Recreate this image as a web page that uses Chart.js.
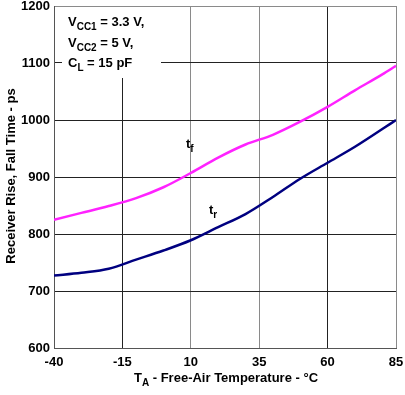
<!DOCTYPE html>
<html>
<head>
<meta charset="utf-8">
<script src="https://cdn.jsdelivr.net/npm/chart.js@4.4.0/dist/chart.umd.min.js"></script>
<style>
  html, body { margin: 0; padding: 0; background: #fff; }
  #wrap { width: 405px; height: 395px; }
</style>
</head>
<body>
<div id="wrap"><canvas id="c"></canvas></div>
<script>
// temperatures (°C) and times (ps)
const tfTemps = [-40, -30, -20, -10, 0, 10, 20, 30, 40, 50, 60, 70, 80, 85];
const tfValues = [825, 837, 849, 863, 882, 907, 934, 957, 974, 997, 1023, 1052, 1080, 1095];
const trTemps = [-40, -30, -20, -10, 0, 10, 20, 30, 40, 50, 60, 70, 85];
const trValues = [727, 732, 739, 755, 771, 789, 812, 835, 865, 897, 925, 953, 1000];
const xTicks = [-40, -15, 10, 35, 60, 85];
const yTicks = [600, 700, 800, 900, 1000, 1100, 1200];

const FONT = '"Liberation Sans", Arial, sans-serif';

// draws text made of [string, isSubscript] parts
function drawParts(ctx, parts, x, y, size, align) {
  const subSize = Math.round(size * 0.78);
  let total = 0;
  parts.forEach(p => {
    ctx.font = 'bold ' + (p[1] ? subSize : size) + 'px ' + FONT;
    total += ctx.measureText(p[0]).width;
  });
  let cx = align === 'center' ? x - total / 2 : x;
  ctx.textAlign = 'left';
  ctx.textBaseline = 'alphabetic';
  parts.forEach(p => {
    ctx.font = 'bold ' + (p[1] ? subSize : size) + 'px ' + FONT;
    ctx.fillText(p[0], cx, p[1] ? y + 4 : y);
    cx += ctx.measureText(p[0]).width;
  });
}

const labels = {
  id: 'labels',
  beforeDatasetsDraw(chart) {
    const ctx = chart.ctx;
    ctx.save();
    ctx.fillStyle = '#fff';
    ctx.fillRect(62, 7, 99, 71);
    ctx.fillStyle = '#000';
    drawParts(ctx, [['V', 0], ['CC1', 1], [' = 3.3 V,', 0]], 68, 26, 13);
    drawParts(ctx, [['V', 0], ['CC2', 1], [' = 5 V,', 0]], 68, 47, 13);
    drawParts(ctx, [['C', 0], ['L', 1], [' = 15 pF', 0]], 68, 67, 13);
    ctx.restore();
  },
  afterDraw(chart) {
    const ctx = chart.ctx;
    ctx.save();
    ctx.fillStyle = '#000';
    drawParts(ctx, [['t', 0], ['f', 1]], 186, 148, 13);
    drawParts(ctx, [['t', 0], ['r', 1]], 209, 214, 13);
    drawParts(ctx, [['T', 0], ['A', 1], [' - Free-Air Temperature - °C', 0]], 226, 382, 13, 'center');
    ctx.translate(15, 176);
    ctx.rotate(-Math.PI / 2);
    drawParts(ctx, [['Receiver Rise, Fall Time - ps', 0]], 0, 0, 13, 'center');
    ctx.restore();
  }
};

new Chart(document.getElementById('c'), {
  type: 'line',
  data: {
    datasets: [
      {
        label: 'tf',
        data: tfTemps.map((t, i) => ({ x: t, y: tfValues[i] })),
        borderColor: '#ff22ff',
        borderWidth: 2.5,
        pointRadius: 0,
        cubicInterpolationMode: 'monotone'
      },
      {
        label: 'tr',
        data: trTemps.map((t, i) => ({ x: t, y: trValues[i] })),
        borderColor: '#000080',
        borderWidth: 2.5,
        pointRadius: 0,
        cubicInterpolationMode: 'monotone'
      }
    ]
  },
  options: {
    responsive: true,
    maintainAspectRatio: false,
    animation: false,
    layout: { padding: { top: 6, right: 9, left: 0, bottom: 0 } },
    plugins: {
      legend: { display: false },
      tooltip: { enabled: false }
    },
    scales: {
      x: {
        type: 'linear',
        min: -40,
        max: 85,
        afterBuildTicks: s => { s.ticks = xTicks.map(v => ({ value: v })); },
        afterFit: s => { s.height = 47; s.paddingLeft = 0; s.paddingRight = 0; },
        grid: {
          drawTicks: false,
          color: c => ([10, 35, 85].includes(c.tick.value) ? '#8a8a8a' : '#222'),
          lineWidth: 1
        },
        border: { color: '#555', width: 1 },
        ticks: {
          padding: 7,
          color: '#000',
          callback: v => String(v),
          font: { family: FONT, size: 13, weight: 'bold' }
        }
      },
      y: {
        min: 600,
        max: 1200,
        afterBuildTicks: s => { s.ticks = yTicks.map(v => ({ value: v })); },
        afterFit: s => { s.width = 54; s.paddingTop = 0; s.paddingBottom = 0; },
        grid: {
          drawTicks: false,
          color: c => (c.tick.value === 1200 ? '#8a8a8a' : '#222'),
          lineWidth: 1
        },
        border: { color: '#555', width: 1 },
        ticks: {
          padding: 4,
          color: '#000',
          callback: v => String(v),
          font: { family: FONT, size: 13, weight: 'bold' }
        }
      }
    }
  },
  plugins: [labels]
});
</script>
</body>
</html>
